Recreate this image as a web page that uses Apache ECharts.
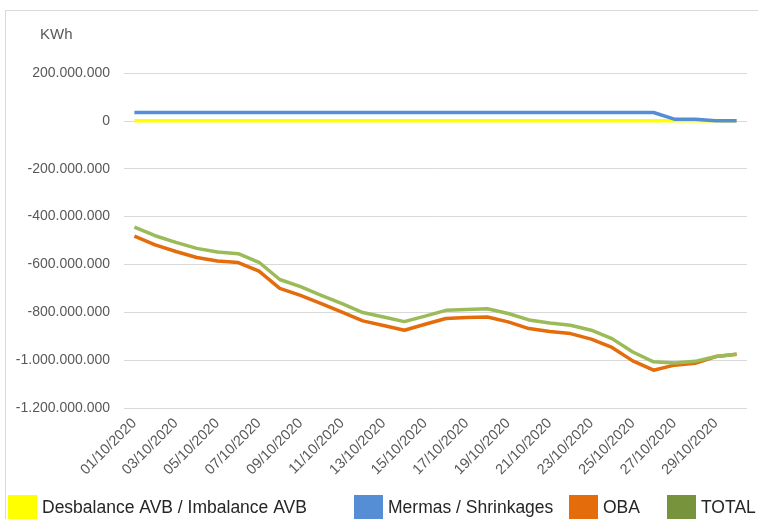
<!DOCTYPE html>
<html>
<head>
<meta charset="utf-8">
<script src="https://cdn.jsdelivr.net/npm/echarts@6/dist/echarts.min.js"></script>
<style>
  html, body { margin: 0; padding: 0; background: #fff; }
  #chart { width: 758px; height: 519px; }
</style>
</head>
<body>
<div id="chart"></div>
<script>
// dias de octubre 2020
const days = [
  '01/10/2020', '02/10/2020', '03/10/2020', '04/10/2020', '05/10/2020',
  '06/10/2020', '07/10/2020', '08/10/2020', '09/10/2020', '10/10/2020',
  '11/10/2020', '12/10/2020', '13/10/2020', '14/10/2020', '15/10/2020',
  '16/10/2020', '17/10/2020', '18/10/2020', '19/10/2020', '20/10/2020',
  '21/10/2020', '22/10/2020', '23/10/2020', '24/10/2020', '25/10/2020',
  '26/10/2020', '27/10/2020', '28/10/2020', '29/10/2020', '30/10/2020'
]

// valores en millones de KWh
const desbalance = [
  0, 0, 0, 0, 0, 0, 0, 0, 0, 0,
  0, 0, 0, 0, 0, 0, 0, 0, 0, 0,
  0, 0, 0, 0, 0, 0, 0, 0, 0, 0
]
const mermas = [
  35, 35, 35, 35, 35, 35, 35, 35, 35, 35,
  35, 35, 35, 35, 35, 35, 35, 35, 35, 35,
  35, 35, 35, 35, 35, 35, 7, 7, 0, 0
]
const oba = [
  -482, -518, -546, -571, -586, -592, -628, -700, -729, -764,
  -799, -836, -855, -875, -850, -826, -822, -820, -840, -868,
  -880, -889, -912, -947, -1003, -1042, -1021, -1013, -985, -975
]
const total = [
  -444, -480, -508, -533, -548, -555, -591, -663, -693, -729,
  -764, -801, -820, -839, -816, -792, -788, -785, -805, -832,
  -845, -854, -875, -910, -966, -1007, -1012, -1005, -985, -975
]

const M = 1000000
const toKwh = arr => arr.map(v => v * M)

const fmt = v => {
  const s = String(Math.abs(Math.round(v))).replace(/\B(?=(\d{3})+(?!\d))/g, '.')
  return (v < 0 ? '-' : '') + s
}

const FONT = 'Liberation Sans'
const names = ['Desbalance AVB / Imbalance AVB', 'Mermas / Shrinkages', 'OBA', 'TOTAL']
const lineColors = ['#FFFF00', '#558ED5', '#E46C0A', '#9BBB59']
const legendColors = ['#FFFF00', '#558ED5', '#E46C0A', '#77933C']
const legendLeft = [8, 354, 569, 667]

const chart = echarts.init(document.getElementById('chart'))

const legends = names.map((n, i) => ({
  left: legendLeft[i],
  top: 495,
  padding: 0,
  icon: 'rect',
  itemWidth: 29,
  itemHeight: 26,
  selectedMode: false,
  textStyle: { fontFamily: FONT, fontSize: 17.5, color: '#262626' },
  data: [{ name: n, itemStyle: { color: legendColors[i] } }]
}))

const seriesData = [desbalance, mermas, oba, total]

chart.setOption({
  animation: false,
  textStyle: { fontFamily: FONT },
  title: {
    text: 'KWh',
    left: 40,
    top: 27,
    padding: 0,
    textStyle: { fontFamily: FONT, fontSize: 15, fontWeight: 'normal', color: '#595959' }
  },
  graphic: [{
    type: 'rect',
    shape: { x: 5.5, y: 10.5, width: 800, height: 600 },
    style: { fill: 'none', stroke: '#d9d9d9', lineWidth: 1 },
    silent: true
  }],
  legend: legends,
  grid: { left: 124, right: 11, top: 73, bottom: 111, outerBoundsMode: 'none' },
  xAxis: {
    type: 'category',
    data: days,
    boundaryGap: true,
    axisLine: { show: false },
    axisTick: { show: false },
    axisLabel: {
      interval: 1,
      rotate: 45,
      margin: 13,
      fontFamily: FONT,
      fontSize: 14.5,
      color: '#595959'
    }
  },
  yAxis: {
    type: 'value',
    min: -1200 * M,
    max: 200 * M,
    interval: 200 * M,
    axisLine: { show: false },
    axisTick: { show: false },
    splitLine: { lineStyle: { color: '#d9d9d9', width: 1 } },
    axisLabel: {
      margin: 14,
      fontFamily: FONT,
      fontSize: 14,
      color: '#595959',
      formatter: fmt
    }
  },
  series: names.map((n, i) => ({
    name: n,
    type: 'line',
    symbol: 'none',
    color: lineColors[i],
    lineStyle: { width: 3.5, color: lineColors[i], join: 'round' },
    data: toKwh(seriesData[i])
  }))
})
</script>
</body>
</html>
